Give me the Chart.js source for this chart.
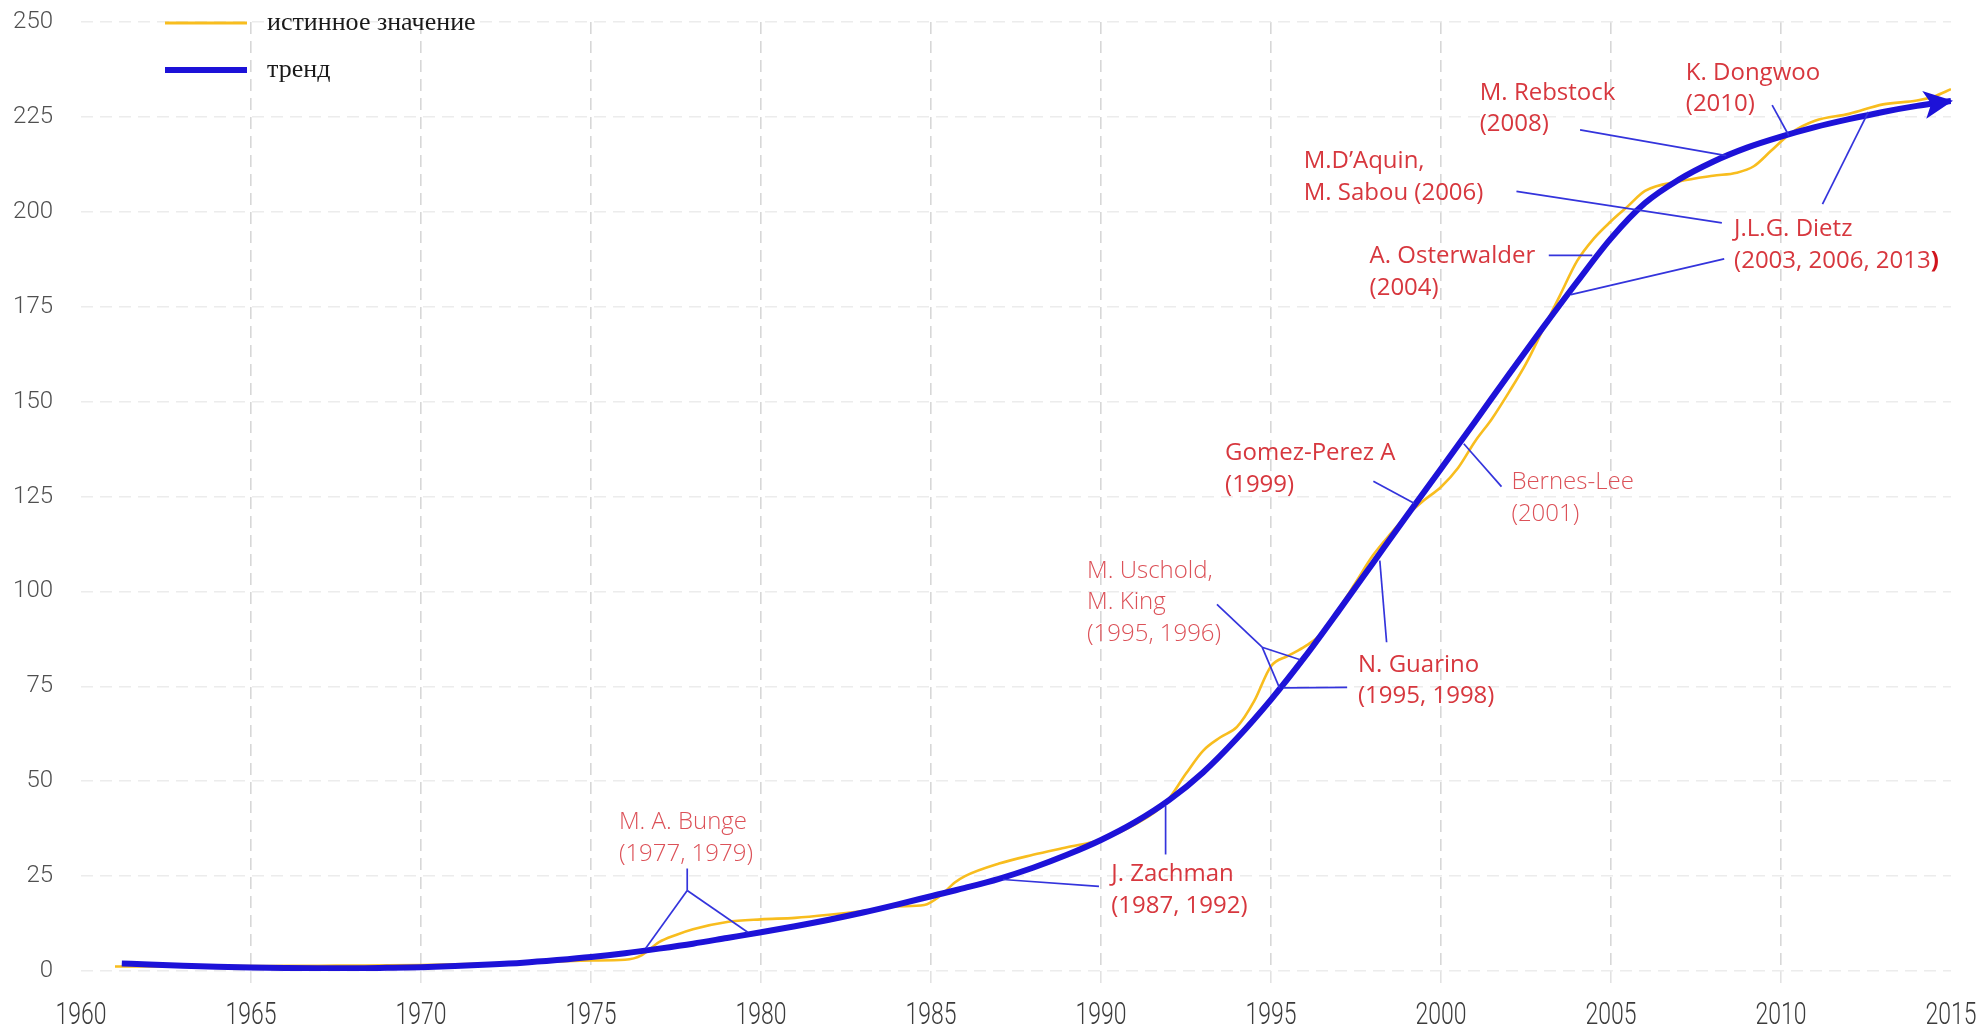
<!DOCTYPE html>
<html>
<head>
<meta charset="utf-8">
<title>Тренд</title>
<script src="https://cdn.jsdelivr.net/npm/chart.js@4.4.1/dist/chart.umd.min.js"></script>
<style>
  html, body { margin: 0; padding: 0; background: #fff; }
  #wrap { width: 1985px; height: 1029px; }
</style>
</head>
<body>
<div id="wrap"><canvas id="chart" width="1985" height="1029"></canvas></div>
<script>
'use strict';

// Series names (legend)
const seriesLabels = ['истинное значение', 'тренд'];

// True value (yellow curve)
const trueYears = [
    1961, 1962, 1963, 1964, 1965, 1966, 1967, 1968, 1969, 1970,
    1971, 1972, 1973, 1974, 1975, 1976, 1976.5, 1977, 1977.5, 1978,
    1979, 1980, 1981, 1982, 1983, 1984, 1984.8, 1985.3, 1985.7, 1986,
    1987, 1988, 1989, 1990, 1991, 1991.9, 1992.5, 1993, 1993.5, 1994,
    1994.5, 1995, 1995.5, 1996, 1996.5, 1997, 1997.5, 1998, 1998.5, 1999,
    1999.5, 2000, 2000.5, 2001, 2001.5, 2002, 2002.5, 2003, 2003.5, 2004,
    2004.5, 2005, 2005.5, 2006, 2007, 2008, 2008.7, 2009.2, 2009.7, 2010.3,
    2011, 2012, 2013, 2014, 2014.5, 2015
];
const trueValues = [
    1.2, 1.2, 1.2, 1.25, 1.3, 1.35, 1.4, 1.45, 1.5, 1.6,
    1.75, 1.95, 2.2, 2.5, 2.75, 2.95, 4.2, 7.6, 9.5, 11,
    12.9, 13.6, 14.0, 14.8, 15.8, 17.0, 17.4, 20, 23.3, 25,
    28.3, 30.6, 32.6, 34.6, 38.6, 44.3, 52, 58, 61.5, 64.3,
    71, 80.3, 83, 85.5, 89, 95.5, 102.5, 109.5, 115, 120,
    124, 127.5, 132.5, 139.5, 145.5, 152.5, 160, 169, 178, 187,
    193, 197.5, 201.5, 205.5, 208, 209.5, 210.3, 212, 216, 220.8,
    224, 225.8, 228.3, 229.3, 230.4, 232.3
];

// Trend (blue curve)
const trendYears = [
    1961.2, 1962, 1963, 1964, 1965, 1966, 1967, 1968, 1969, 1970,
    1971, 1972, 1973, 1974, 1975, 1976, 1977, 1978, 1979, 1980,
    1981, 1982, 1983, 1984, 1985, 1986, 1987, 1988, 1989, 1990,
    1991, 1992, 1993, 1994, 1995, 1996, 1997, 1998, 1999, 2000,
    2001, 2002, 2003, 2004, 2005, 2006, 2007, 2008, 2009, 2010,
    2011, 2012, 2013, 2014, 2015
];
const trendValues = [
    2.0, 1.7, 1.4, 1.15, 0.95, 0.8, 0.75, 0.75, 0.85, 1.0,
    1.3, 1.7, 2.2, 2.9, 3.7, 4.7, 5.9, 7.2, 8.7, 10.2,
    11.8, 13.5, 15.4, 17.5, 19.7, 21.9, 24.3, 27.2, 30.6, 34.5,
    39.2, 45, 52.3, 61.3, 71.5, 82.8, 95, 107.5, 120, 132.3,
    144.7, 157.2, 169.5, 181.5, 193, 202.3, 208.5, 213.2, 216.9, 219.8,
    222.3, 224.4, 226.3, 227.9, 229.2
];

// Axis ticks
const yearTicks = [1960, 1965, 1970, 1975, 1980, 1985, 1990, 1995, 2000, 2005, 2010, 2015];
const valueTicks = [0, 25, 50, 75, 100, 125, 150, 175, 200, 225, 250];

// Annotation texts and where their first line sits (year, value)
const noteLines = [
    ['M. A. Bunge', '(1977, 1979)'],
    ['J. Zachman', '(1987, 1992)'],
    ['M. Uschold,', 'M. King', '(1995, 1996)'],
    ['N. Guarino', '(1995, 1998)'],
    ['Gomez-Perez A', '(1999)'],
    ['Bernes-Lee', '(2001)'],
    ['A. Osterwalder', '(2004)'],
    ['J.L.G. Dietz', '(2003, 2006, 2013)'],
    ['M.D\u2019Aquin,', 'M. Sabou (2006)'],
    ['M. Rebstock', '(2008)'],
    ['K. Dongwoo', '(2010)']
];
const noteAnchors = [
    [1975.82, 39.1], [1990.30, 25.4], [1989.59, 105.4], [1997.56, 80.7],
    [1993.65, 136.4], [2002.07, 128.7], [1997.90, 188.2], [2008.62, 195.3],
    [1995.96, 213.3], [2001.14, 231.3], [2007.20, 236.6]
];

// Pointer lines, each [[year, value], [year, value]]
const pointerSegments = [
    [[1977.83, 27.0], [1977.83, 21.2]],
    [[1977.83, 21.2], [1976.61, 6.0]],
    [[1977.83, 21.2], [1979.61, 10.2]],
    [[1989.94, 22.3], [1987.12, 24.1]],
    [[1991.90, 43.5], [1991.90, 30.7]],
    [[1993.41, 96.6], [1994.74, 85.3]],
    [[1994.74, 85.3], [1995.86, 82.0]],
    [[1994.74, 85.3], [1995.25, 74.6]],
    [[1997.24, 74.7], [1995.37, 74.6]],
    [[1998.20, 108.1], [1998.40, 86.6]],
    [[1998.01, 129.0], [1999.21, 123.2]],
    [[2001.78, 127.6], [2000.67, 138.9]],
    [[2003.17, 188.5], [2004.45, 188.5]],
    [[2008.33, 187.6], [2003.82, 178.2]],
    [[2002.22, 205.4], [2008.26, 197.1]],
    [[2011.22, 202.0], [2012.57, 226.3]],
    [[2004.09, 221.6], [2008.39, 214.8]],
    [[2009.74, 228.1], [2010.23, 220.1]]
];

const YELLOW = '#f8bd1e';
const BLUE = '#1d12d8';
const POINTER = '#3434dc';
const RED = '#d7373e';
const RED_LIGHT = '#dc5158';
const lightNotes = [0, 2, 5];

function toPoints(xs, ys) {
    return xs.map((v, i) => ({ x: v, y: ys[i] }));
}

// Notes, pointers and the trend arrow
const notesPlugin = {
    id: 'notes',
    afterDatasetsDraw(chart) {
        const { ctx, scales: { x, y } } = chart;
        ctx.save();

        // arrow head at the end of the trend
        const pts = chart.getDatasetMeta(1).data;
        const last = pts[pts.length - 1];
        const prev = pts[pts.length - 2];
        const ang = Math.atan2(last.y - prev.y, last.x - prev.x);
        const dx = Math.cos(ang), dy = Math.sin(ang);
        const tipX = last.x + dx * 2, tipY = last.y + dy * 2;
        const len = 29, half = 14;
        ctx.fillStyle = BLUE;
        ctx.beginPath();
        ctx.moveTo(tipX, tipY);
        ctx.lineTo(tipX - dx * len - dy * half, tipY - dy * len + dx * half);
        ctx.lineTo(tipX - dx * (len - 7), tipY - dy * (len - 7));
        ctx.lineTo(tipX - dx * len + dy * half, tipY - dy * len - dx * half);
        ctx.closePath();
        ctx.fill();

        // pointer lines
        ctx.strokeStyle = POINTER;
        ctx.lineWidth = 1.7;
        pointerSegments.forEach(seg => {
            ctx.beginPath();
            ctx.moveTo(x.getPixelForValue(seg[0][0]), y.getPixelForValue(seg[0][1]));
            ctx.lineTo(x.getPixelForValue(seg[1][0]), y.getPixelForValue(seg[1][1]));
            ctx.stroke();
        });

        // texts
        ctx.textAlign = 'left';
        ctx.textBaseline = 'middle';
        noteLines.forEach((lines, i) => {
            const px = x.getPixelForValue(noteAnchors[i][0]);
            const py = y.getPixelForValue(noteAnchors[i][1]);
            const light = lightNotes.indexOf(i) !== -1;
            lines.forEach((t, j) => {
                const ly = py + j * 31.5;
                ctx.font = (light ? '300 ' : '400 ') + '24px "Open Sans"';
                ctx.fillStyle = light ? RED_LIGHT : RED;
                // Dietz: closing bracket is bold in the original
                if (i === 7 && j === 1) {
                    const body = t.slice(0, -1);
                    ctx.fillText(body, px, ly);
                    const w = ctx.measureText(body).width;
                    ctx.font = '700 24px "Open Sans"';
                    ctx.fillStyle = '#d0141c';
                    ctx.fillText(')', px + w, ly);
                } else {
                    ctx.fillText(t, px, ly);
                }
            });
        });
        ctx.restore();
    },
    afterDraw(chart) {
        const { ctx, scales: { x } } = chart;
        ctx.save();

        // x tick labels (tall, narrow look of the original)
        ctx.fillStyle = '#3c3c3c';
        ctx.font = '300 23px Roboto';
        ctx.textAlign = 'center';
        ctx.textBaseline = 'middle';
        yearTicks.forEach(v => {
            ctx.save();
            ctx.translate(x.getPixelForValue(v), 1016);
            ctx.scale(1, 1.38);
            ctx.fillText(String(v), 0, 0);
            ctx.restore();
        });

        // legend
        const colors = [YELLOW, BLUE];
        const widths = [3, 6];
        const rows = [23, 70];
        ctx.textAlign = 'left';
        ctx.font = '26px "Liberation Serif"';
        seriesLabels.forEach((lbl, i) => {
            ctx.strokeStyle = colors[i];
            ctx.lineWidth = widths[i];
            ctx.beginPath();
            ctx.moveTo(165, rows[i]);
            ctx.lineTo(247, rows[i]);
            ctx.stroke();
            ctx.fillStyle = '#1a1a1a';
            ctx.fillText(lbl, 267, rows[i]);
        });
        ctx.restore();
    }
};

const edgeYear = v => v === yearTicks[0] || v === yearTicks[yearTicks.length - 1];

new Chart(document.getElementById('chart'), {
    type: 'line',
    data: {
        datasets: [
            {
                label: seriesLabels[0],
                data: toPoints(trueYears, trueValues),
                borderColor: YELLOW,
                borderWidth: 2.6,
                pointRadius: 0,
                cubicInterpolationMode: 'monotone',
                order: 1
            },
            {
                label: seriesLabels[1],
                data: toPoints(trendYears, trendValues),
                borderColor: BLUE,
                borderWidth: 6,
                pointRadius: 0,
                cubicInterpolationMode: 'monotone',
                order: 0
            }
        ]
    },
    options: {
        responsive: false,
        animation: false,
        layout: { padding: { top: 22, right: 34, left: 0, bottom: 0 } },
        plugins: {
            legend: { display: false },
            tooltip: { enabled: false }
        },
        scales: {
            x: {
                type: 'linear',
                min: 1960,
                max: 2015,
                afterBuildTicks: s => { s.ticks = yearTicks.map(v => ({ value: v })); },
                afterFit: s => { s.height = 58; },
                ticks: { display: false },
                border: { display: false, dash: [12, 7] },
                grid: {
                    color: c => (c.tick && edgeYear(c.tick.value)) ? 'rgba(0,0,0,0)' : '#d7d7d7',
                    tickColor: c => (c.tick && edgeYear(c.tick.value)) ? 'rgba(0,0,0,0)' : '#e2e2e2',
                    lineWidth: 1.6,
                    tickLength: 16,
                    tickBorderDash: [12, 7]
                }
            },
            y: {
                min: 0,
                max: 250,
                afterBuildTicks: s => { s.ticks = valueTicks.map(v => ({ value: v })); },
                afterFit: s => { s.width = 81; },
                ticks: {
                    color: '#505050',
                    padding: 0,
                    font: { family: 'Roboto', size: 24, weight: 300 }
                },
                border: { display: false, dash: [12, 7] },
                grid: {
                    color: '#ececec',
                    lineWidth: 1.5,
                    drawTicks: true,
                    tickLength: 28,
                    tickColor: 'rgba(0,0,0,0)'
                }
            }
        }
    },
    plugins: [notesPlugin]
});
</script>
</body>
</html>
